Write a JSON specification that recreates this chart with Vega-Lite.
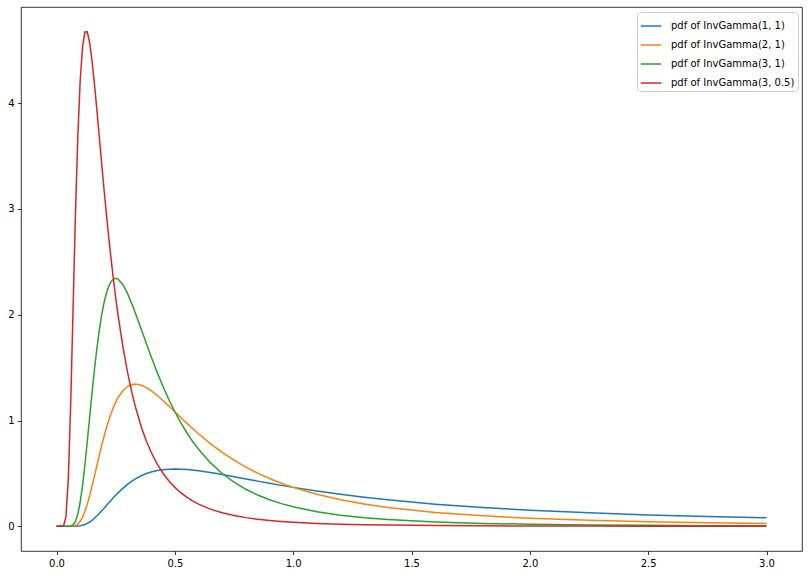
{
  "$schema": "https://vega.github.io/schema/vega-lite/v6.json",
  "width": 781,
  "height": 544,
  "autosize": {"type": "none"},
  "padding": {"left": 21, "top": 7, "right": 6, "bottom": 24},
  "background": "white",
  "config": {
    "font": "DejaVu Sans",
    "view": {"stroke": "black", "strokeWidth": 0.8},
    "axis": {"domain": false, "grid": false, "labelFontSize": 10, "labelColor": "black", "tickColor": "black", "tickSize": 3.5, "tickWidth": 0.8, "labelPadding": 3.5, "title": null, "labelFont": "DejaVu Sans"}
  },
  "datasets": {
    "d": [
      {"x":0,"y":0,"s":"b"},{"x":0.02,"y":0,"s":"b"},{"x":0.03,"y":0,"s":"b"},{"x":0.04,"y":0,"s":"b"},{"x":0.05,"y":0,"s":"b"},{"x":0.06,"y":0.00003,"s":"b"},{"x":0.07,"y":0.00013,"s":"b"},{"x":0.08,"y":0.00058,"s":"b"},{"x":0.09,"y":0.00184,"s":"b"},{"x":0.1,"y":0.00454,"s":"b"},{"x":0.11,"y":0.00931,"s":"b"},{"x":0.12,"y":0.0167,"s":"b"},{"x":0.13,"y":0.027,"s":"b"},{"x":0.14,"y":0.0403,"s":"b"},{"x":0.15,"y":0.0566,"s":"b"},{"x":0.16,"y":0.0754,"s":"b"},{"x":0.17,"y":0.0965,"s":"b"},{"x":0.18,"y":0.1193,"s":"b"},{"x":0.19,"y":0.1435,"s":"b"},{"x":0.2,"y":0.1684,"s":"b"},{"x":0.21,"y":0.1939,"s":"b"},{"x":0.22,"y":0.2193,"s":"b"},{"x":0.23,"y":0.2445,"s":"b"},{"x":0.24,"y":0.2692,"s":"b"},{"x":0.25,"y":0.293,"s":"b"},{"x":0.26,"y":0.316,"s":"b"},{"x":0.28,"y":0.3586,"s":"b"},{"x":0.3,"y":0.3964,"s":"b"},{"x":0.32,"y":0.4291,"s":"b"},{"x":0.3333,"y":0.4481,"s":"b"},{"x":0.36,"y":0.4798,"s":"b"},{"x":0.38,"y":0.4984,"s":"b"},{"x":0.4,"y":0.513,"s":"b"},{"x":0.425,"y":0.5264,"s":"b"},{"x":0.45,"y":0.5352,"s":"b"},{"x":0.475,"y":0.5399,"s":"b"},{"x":0.5,"y":0.5413,"s":"b"},{"x":0.525,"y":0.5401,"s":"b"},{"x":0.55,"y":0.5366,"s":"b"},{"x":0.575,"y":0.5313,"s":"b"},{"x":0.6,"y":0.5247,"s":"b"},{"x":0.65,"y":0.5082,"s":"b"},{"x":0.7,"y":0.4891,"s":"b"},{"x":0.75,"y":0.4686,"s":"b"},{"x":0.8,"y":0.4477,"s":"b"},{"x":0.85,"y":0.4268,"s":"b"},{"x":0.9,"y":0.4064,"s":"b"},{"x":0.95,"y":0.3867,"s":"b"},{"x":1.0,"y":0.3679,"s":"b"},{"x":1.1,"y":0.333,"s":"b"},{"x":1.2,"y":0.3018,"s":"b"},{"x":1.3,"y":0.2742,"s":"b"},{"x":1.4,"y":0.2498,"s":"b"},{"x":1.6,"y":0.2091,"s":"b"},{"x":1.8,"y":0.1771,"s":"b"},{"x":2.0,"y":0.1516,"s":"b"},{"x":2.25,"y":0.1267,"s":"b"},{"x":2.5,"y":0.1073,"s":"b"},{"x":2.75,"y":0.0919,"s":"b"},{"x":3.0,"y":0.0796,"s":"b"},
      {"x":0,"y":0,"s":"o"},{"x":0.02,"y":0,"s":"o"},{"x":0.03,"y":0,"s":"o"},{"x":0.04,"y":0,"s":"o"},{"x":0.05,"y":0.00002,"s":"o"},{"x":0.06,"y":0.00027,"s":"o"},{"x":0.07,"y":0.00182,"s":"o"},{"x":0.08,"y":0.00728,"s":"o"},{"x":0.09,"y":0.0205,"s":"o"},{"x":0.1,"y":0.0454,"s":"o"},{"x":0.11,"y":0.0847,"s":"o"},{"x":0.12,"y":0.1391,"s":"o"},{"x":0.13,"y":0.2077,"s":"o"},{"x":0.14,"y":0.2881,"s":"o"},{"x":0.15,"y":0.3771,"s":"o"},{"x":0.16,"y":0.4713,"s":"o"},{"x":0.17,"y":0.5675,"s":"o"},{"x":0.18,"y":0.6629,"s":"o"},{"x":0.19,"y":0.7551,"s":"o"},{"x":0.2,"y":0.8422,"s":"o"},{"x":0.21,"y":0.9232,"s":"o"},{"x":0.22,"y":0.9969,"s":"o"},{"x":0.23,"y":1.0631,"s":"o"},{"x":0.24,"y":1.1215,"s":"o"},{"x":0.25,"y":1.1722,"s":"o"},{"x":0.26,"y":1.2154,"s":"o"},{"x":0.28,"y":1.2808,"s":"o"},{"x":0.3,"y":1.3212,"s":"o"},{"x":0.32,"y":1.3409,"s":"o"},{"x":0.3333,"y":1.3443,"s":"o"},{"x":0.36,"y":1.3326,"s":"o"},{"x":0.38,"y":1.3115,"s":"o"},{"x":0.4,"y":1.2826,"s":"o"},{"x":0.425,"y":1.2387,"s":"o"},{"x":0.45,"y":1.1893,"s":"o"},{"x":0.475,"y":1.1366,"s":"o"},{"x":0.5,"y":1.0827,"s":"o"},{"x":0.525,"y":1.0287,"s":"o"},{"x":0.55,"y":0.9756,"s":"o"},{"x":0.575,"y":0.924,"s":"o"},{"x":0.6,"y":0.8744,"s":"o"},{"x":0.65,"y":0.7818,"s":"o"},{"x":0.7,"y":0.6987,"s":"o"},{"x":0.75,"y":0.6248,"s":"o"},{"x":0.8,"y":0.5596,"s":"o"},{"x":0.85,"y":0.5021,"s":"o"},{"x":0.9,"y":0.4516,"s":"o"},{"x":0.95,"y":0.4071,"s":"o"},{"x":1.0,"y":0.3679,"s":"o"},{"x":1.1,"y":0.3027,"s":"o"},{"x":1.2,"y":0.2515,"s":"o"},{"x":1.3,"y":0.2109,"s":"o"},{"x":1.4,"y":0.1784,"s":"o"},{"x":1.6,"y":0.1307,"s":"o"},{"x":1.8,"y":0.0984,"s":"o"},{"x":2.0,"y":0.0758,"s":"o"},{"x":2.25,"y":0.0563,"s":"o"},{"x":2.5,"y":0.0429,"s":"o"},{"x":2.75,"y":0.0334,"s":"o"},{"x":3.0,"y":0.0265,"s":"o"},
      {"x":0,"y":0,"s":"g"},{"x":0.02,"y":0,"s":"g"},{"x":0.03,"y":0,"s":"g"},{"x":0.04,"y":0,"s":"g"},{"x":0.05,"y":0.00017,"s":"g"},{"x":0.06,"y":0.00223,"s":"g"},{"x":0.07,"y":0.013,"s":"g"},{"x":0.08,"y":0.0455,"s":"g"},{"x":0.09,"y":0.1139,"s":"g"},{"x":0.1,"y":0.227,"s":"g"},{"x":0.11,"y":0.3848,"s":"g"},{"x":0.12,"y":0.5797,"s":"g"},{"x":0.13,"y":0.799,"s":"g"},{"x":0.14,"y":1.0289,"s":"g"},{"x":0.15,"y":1.2569,"s":"g"},{"x":0.16,"y":1.4729,"s":"g"},{"x":0.17,"y":1.6692,"s":"g"},{"x":0.18,"y":1.8414,"s":"g"},{"x":0.19,"y":1.987,"s":"g"},{"x":0.2,"y":2.1056,"s":"g"},{"x":0.21,"y":2.198,"s":"g"},{"x":0.22,"y":2.2657,"s":"g"},{"x":0.23,"y":2.3112,"s":"g"},{"x":0.24,"y":2.3365,"s":"g"},{"x":0.25,"y":2.344,"s":"g"},{"x":0.26,"y":2.3373,"s":"g"},{"x":0.28,"y":2.2872,"s":"g"},{"x":0.3,"y":2.2022,"s":"g"},{"x":0.32,"y":2.0951,"s":"g"},{"x":0.3333,"y":2.0164,"s":"g"},{"x":0.36,"y":1.8509,"s":"g"},{"x":0.38,"y":1.7256,"s":"g"},{"x":0.4,"y":1.6032,"s":"g"},{"x":0.425,"y":1.4573,"s":"g"},{"x":0.45,"y":1.3214,"s":"g"},{"x":0.475,"y":1.1964,"s":"g"},{"x":0.5,"y":1.0827,"s":"g"},{"x":0.525,"y":0.9797,"s":"g"},{"x":0.55,"y":0.8869,"s":"g"},{"x":0.575,"y":0.8035,"s":"g"},{"x":0.6,"y":0.7287,"s":"g"},{"x":0.65,"y":0.6014,"s":"g"},{"x":0.7,"y":0.4991,"s":"g"},{"x":0.75,"y":0.4166,"s":"g"},{"x":0.8,"y":0.3497,"s":"g"},{"x":0.85,"y":0.2954,"s":"g"},{"x":0.9,"y":0.2509,"s":"g"},{"x":0.95,"y":0.2143,"s":"g"},{"x":1.0,"y":0.1839,"s":"g"},{"x":1.1,"y":0.1376,"s":"g"},{"x":1.2,"y":0.1048,"s":"g"},{"x":1.3,"y":0.0811,"s":"g"},{"x":1.4,"y":0.0637,"s":"g"},{"x":1.6,"y":0.0408,"s":"g"},{"x":1.8,"y":0.0273,"s":"g"},{"x":2.0,"y":0.01895,"s":"g"},{"x":2.25,"y":0.01251,"s":"g"},{"x":2.5,"y":0.00858,"s":"g"},{"x":2.75,"y":0.00608,"s":"g"},{"x":3.0,"y":0.00442,"s":"g"},
      {"x":0,"y":0,"s":"r"},{"x":0.02,"y":0.00001,"s":"r"},{"x":0.03,"y":0.0045,"s":"r"},{"x":0.04,"y":0.091,"s":"r"},{"x":0.05,"y":0.454,"s":"r"},{"x":0.06,"y":1.159,"s":"r"},{"x":0.07,"y":2.058,"s":"r"},{"x":0.08,"y":2.945,"s":"r"},{"x":0.09,"y":3.683,"s":"r"},{"x":0.1,"y":4.211,"s":"r"},{"x":0.11,"y":4.531,"s":"r"},{"x":0.12,"y":4.673,"s":"r"},{"x":0.13,"y":4.675,"s":"r"},{"x":0.14,"y":4.574,"s":"r"},{"x":0.15,"y":4.404,"s":"r"},{"x":0.16,"y":4.19,"s":"r"},{"x":0.17,"y":3.9514,"s":"r"},{"x":0.18,"y":3.702,"s":"r"},{"x":0.19,"y":3.4513,"s":"r"},{"x":0.2,"y":3.206,"s":"r"},{"x":0.21,"y":2.9714,"s":"r"},{"x":0.22,"y":2.749,"s":"r"},{"x":0.23,"y":2.5401,"s":"r"},{"x":0.24,"y":2.3455,"s":"r"},{"x":0.25,"y":2.1654,"s":"r"},{"x":0.26,"y":1.999,"s":"r"},{"x":0.28,"y":1.705,"s":"r"},{"x":0.3,"y":1.4574,"s":"r"},{"x":0.32,"y":1.2494,"s":"r"},{"x":0.3333,"y":1.1296,"s":"r"},{"x":0.36,"y":0.9278,"s":"r"},{"x":0.38,"y":0.8041,"s":"r"},{"x":0.4,"y":0.6995,"s":"r"},{"x":0.425,"y":0.5907,"s":"r"},{"x":0.45,"y":0.5018,"s":"r"},{"x":0.475,"y":0.4285,"s":"r"},{"x":0.5,"y":0.3679,"s":"r"},{"x":0.525,"y":0.3174,"s":"r"},{"x":0.55,"y":0.2752,"s":"r"},{"x":0.575,"y":0.2396,"s":"r"},{"x":0.6,"y":0.2096,"s":"r"},{"x":0.65,"y":0.1622,"s":"r"},{"x":0.7,"y":0.1274,"s":"r"},{"x":0.75,"y":0.1014,"s":"r"},{"x":0.8,"y":0.0817,"s":"r"},{"x":0.85,"y":0.0665,"s":"r"},{"x":0.9,"y":0.0547,"s":"r"},{"x":0.95,"y":0.0453,"s":"r"},{"x":1.0,"y":0.0379,"s":"r"},{"x":1.1,"y":0.0271,"s":"r"},{"x":1.2,"y":0.01987,"s":"r"},{"x":1.3,"y":0.0149,"s":"r"},{"x":1.4,"y":0.01138,"s":"r"},{"x":1.6,"y":0.00698,"s":"r"},{"x":1.8,"y":0.00451,"s":"r"},{"x":2.0,"y":0.00304,"s":"r"},{"x":2.25,"y":0.00195,"s":"r"},{"x":2.5,"y":0.00131,"s":"r"},{"x":2.75,"y":0.00091,"s":"r"},{"x":3.0,"y":0.00065,"s":"r"}
    ]
  },
  "data": {"name": "d"},
  "mark": {"type": "line", "strokeWidth": 1.5, "clip": true},
  "encoding": {
    "x": {"field": "x", "type": "quantitative", "scale": {"domain": [-0.15, 3.15], "nice": false, "zero": false}, "axis": {"values": [0, 0.5, 1, 1.5, 2, 2.5, 3], "format": ".1f"}},
    "y": {"field": "y", "type": "quantitative", "scale": {"domain": [-0.2338, 4.910], "nice": false, "zero": false}, "axis": {"values": [0, 1, 2, 3, 4], "format": "d"}},
    "color": {
      "field": "s", "type": "nominal",
      "scale": {"domain": ["b", "o", "g", "r"], "range": ["#1f77b4", "#ff7f0e", "#2ca02c", "#d62728"]},
      "legend": {
        "title": null,
        "orient": "none",
        "legendX": 616,
        "legendY": 5,
        "padding": 3,
        "fillColor": "white",
        "strokeColor": "#cccccc",
        "cornerRadius": 3,
        "symbolType": "stroke",
        "symbolSize": 420,
        "symbolStrokeWidth": 1.5,
        "labelFontSize": 10,
        "labelFont": "DejaVu Sans",
        "labelColor": "black",
        "labelOffset": 9,
        "rowPadding": 3,
        "labelExpr": "{'b': 'pdf of InvGamma(1, 1)', 'o': 'pdf of InvGamma(2, 1)', 'g': 'pdf of InvGamma(3, 1)', 'r': 'pdf of InvGamma(3, 0.5)'}[datum.value]"
      }
    }
  }
}
